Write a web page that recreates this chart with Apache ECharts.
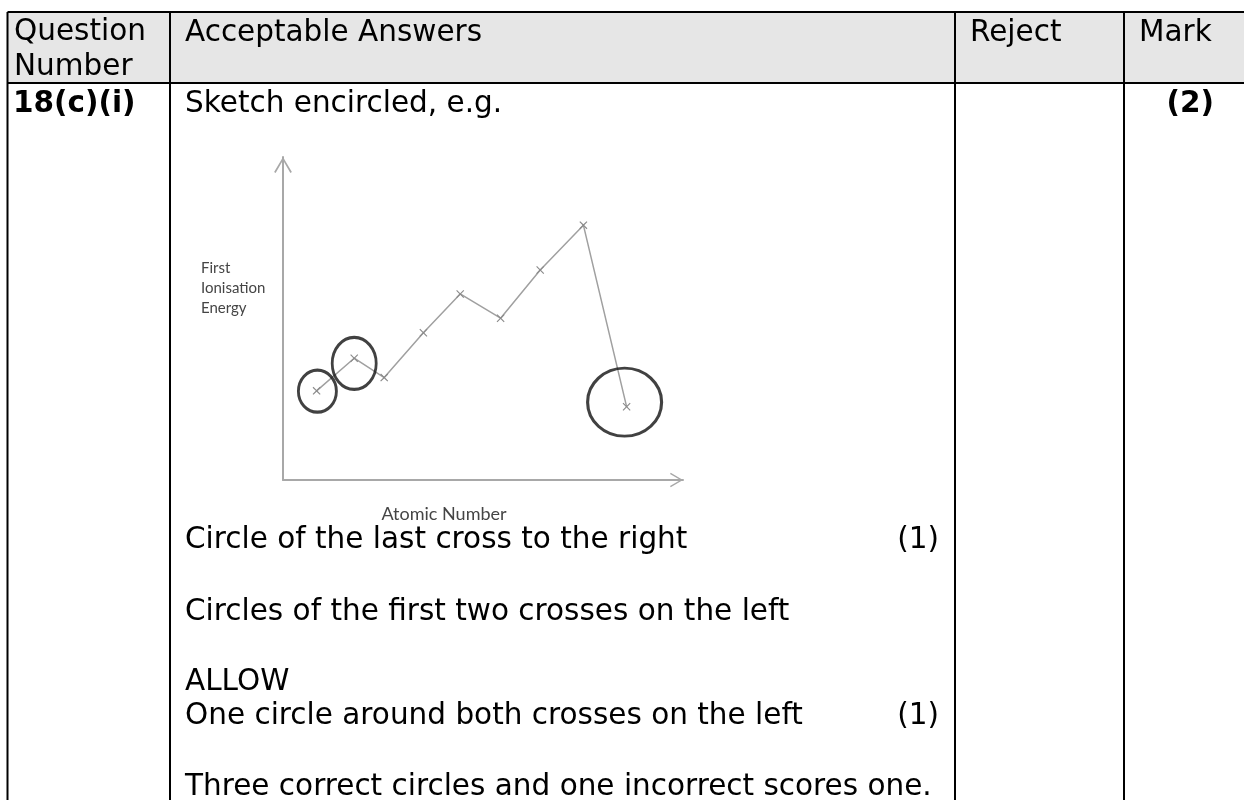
<!DOCTYPE html>
<html><head><meta charset="utf-8">
<script src="https://cdn.jsdelivr.net/npm/echarts@6/dist/echarts.min.js"></script>
<style>html,body{margin:0;padding:0;background:#fff}#c{width:1244px;height:800px}</style>
</head><body><div id="c"></div>
<script>
// ---- content / data ----
const headerLabels = ['Question', 'Number', 'Acceptable Answers', 'Reject', 'Mark'];
const questionNumber = '18(c)(i)';
const introText = 'Sketch encircled, e.g.';
const totalMark = '(2)';
const answerLines = [
  'Circle of the last cross to the right',
  'Circles of the first two crosses on the left',
  'ALLOW',
  'One circle around both crosses on the left',
  'Three correct circles and one incorrect scores one.'
];
const answerMarks = ['(1)', '', '', '(1)', ''];
const xAxisName = 'Atomic Number';
const yAxisName = 'First\nIonisation\nEnergy';
// sketch positions along atomic number (arbitrary sketch units 0-100)
const atomicPos = [8.4, 17.8, 25.3, 35.1, 44.3, 54.4, 64.3, 75.1, 85.9];
// sketched first ionisation energy (arbitrary units 0-100)
const ionEnergy = [27.6, 37.7, 31.7, 45.6, 57.6, 50.1, 65.0, 78.9, 22.7];
// encircled crosses (centres of the hand-drawn rings)
const circledPos = [8.6, 17.8, 85.4];
const circledEnergy = [27.5, 36.1, 24.1];

// ---- styles / layout ----
const FONT = '"DejaVu Sans", Verdana, sans-serif';
const FS = 29.5;
const colX = [7.5, 170, 955, 1124];
const TABLE_TOP = 12, HEADER_BOTTOM = 83, W = 1244, H = 800;
const RING_SIZES = [[38, 42], [44, 52], [74, 68]];
const CROSS = 'path://M0,1 L1,0 L5,4 L9,0 L10,1 L6,5 L10,9 L9,10 L5,6 L1,10 L0,9 L4,5 Z';
const CHEVRON = 'path://M0,17 L10,0 L20,17 L18.3,18 L10,3.6 L1.7,18 Z';

function txt(text, x, y, opts) {
  opts = opts || {};
  return {
    type: 'text', x: x, y: y, silent: true, z: 10,
    style: {
      text: text, fill: '#000',
      font: (opts.bold ? 'bold ' : '') + FS + 'px ' + FONT,
      textAlign: opts.align || 'left', align: opts.align || 'left',
      textVerticalAlign: 'middle', verticalAlign: 'middle'
    }
  };
}
function line(x1, y1, x2, y2) {
  return { type: 'line', silent: true, z: 10, shape: {x1, y1, x2, y2}, style: {stroke: '#000', lineWidth: 2} };
}

const graphics = [];
graphics.push({ type: 'rect', silent: true, z: 0, shape: {x: colX[0], y: TABLE_TOP, width: W - colX[0], height: HEADER_BOTTOM - TABLE_TOP}, style: {fill: '#e6e6e6'} });
graphics.push(line(colX[0], TABLE_TOP, W, TABLE_TOP));
graphics.push(line(colX[0], HEADER_BOTTOM, W, HEADER_BOTTOM));
colX.forEach(x => graphics.push(line(x, TABLE_TOP, x, H)));
graphics.push(txt(headerLabels[0], 14, 32));
graphics.push(txt(headerLabels[1], 14, 67));
graphics.push(txt(headerLabels[2], 185, 33));
graphics.push(txt(headerLabels[3], 970, 33));
graphics.push(txt(headerLabels[4], 1139, 33));
graphics.push(txt(questionNumber, 13, 104, {bold: true}));
graphics.push(txt(introText, 185, 104));
graphics.push(txt(totalMark, 1214, 104, {bold: true, align: 'right'}));
const lineY = [540, 612, 682, 716, 787];
answerLines.forEach((t, i) => {
  graphics.push(txt(t, 185, lineY[i]));
  if (answerMarks[i]) graphics.push(txt(answerMarks[i], 939, lineY[i], {align: 'right'}));
});

const chart = echarts.init(document.getElementById('c'), null, {renderer: 'canvas'});
chart.setOption({
  animation: false,
  backgroundColor: '#fff',
  grid: {left: 283, right: W - 683, top: 157, bottom: H - 480},
  xAxis: {
    type: 'value', min: 0, max: 100,
    name: xAxisName, nameLocation: 'middle', nameGap: 25,
    nameTextStyle: {fontFamily: 'Lato', fontSize: 18, color: '#454545', padding: [0, 78, 0, 0]},
    axisLine: {show: true, onZero: false, symbol: ['none', CHEVRON], symbolSize: [22, 13], symbolOffset: [0, -6.5],
      lineStyle: {color: '#a8a8a8', width: 2}},
    axisTick: {show: false}, axisLabel: {show: false}, splitLine: {show: false}
  },
  yAxis: {
    type: 'value', min: 0, max: 100,
    name: yAxisName, nameLocation: 'middle', nameRotate: 0, nameGap: 82,
    nameTextStyle: {fontFamily: 'Lato', fontSize: 15, lineHeight: 20, color: '#454545', align: 'left', verticalAlign: 'bottom'},
    axisLine: {show: true, onZero: false, symbol: ['none', CHEVRON], symbolSize: [30, 16], symbolOffset: [0, -8],
      lineStyle: {color: '#a8a8a8', width: 2}},
    axisTick: {show: false}, axisLabel: {show: false}, splitLine: {show: false}
  },
  series: [
    {
      type: 'line',
      data: atomicPos.map((x, i) => [x, ionEnergy[i]]),
      symbol: CROSS, symbolSize: 8, showSymbol: true,
      lineStyle: {color: '#a0a0a0', width: 1.5},
      itemStyle: {color: '#8a8a8a'},
      z: 3
    },
    {
      type: 'scatter',
      data: circledPos.map((x, i) => ({value: [x, circledEnergy[i]], symbolSize: RING_SIZES[i]})),
      symbol: 'circle',
      itemStyle: {color: 'rgba(0,0,0,0)', borderColor: '#111', borderWidth: 3},
      z: 4
    }
  ],
  graphic: {elements: graphics}
});
</script>
</body></html>
